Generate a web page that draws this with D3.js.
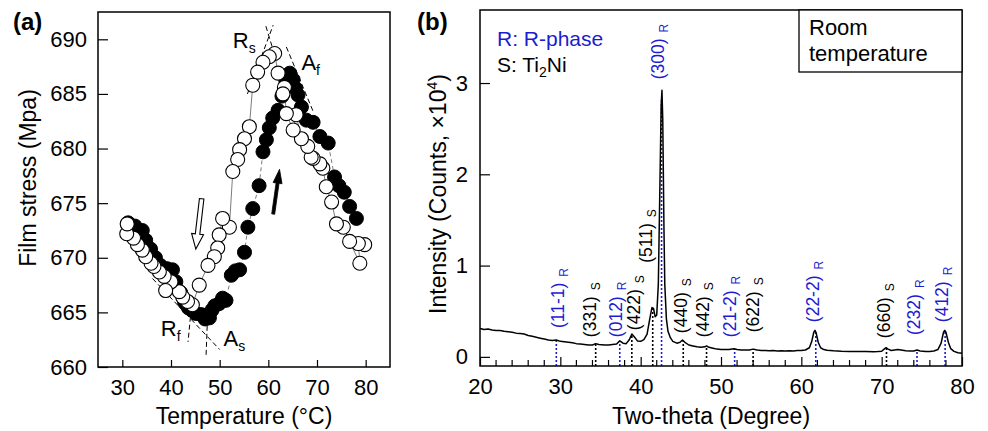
<!DOCTYPE html>
<html>
<head>
<meta charset="utf-8">
<script src="https://cdn.jsdelivr.net/npm/d3@7"></script>
<style>
  body { margin: 0; background: #fff; }
  svg { display: block; }
  text { font-family: Arial, "Liberation Sans", sans-serif; }
</style>
</head>
<body>
<svg id="chart" width="988" height="431"></svg>
<script>
// ---- panel (a): film stress vs temperature ----
const tempTicks = [30, 40, 50, 60, 70, 80]
const stressTicks = [660, 665, 670, 675, 680, 685, 690]

// open circles (cooling), in measuring order
const coolTemp = [79.8, 78.5, 78.8, 76.7, 75.4, 74.0, 73.0, 71.9, 71.2, 70.6, 69.2, 68.8, 68.1, 66.8, 65.7, 65.1,
  63.7, 63.3, 63.0, 62.0, 61.3, 60.2, 58.9, 57.8, 56.8, 56.1, 55.1, 54.1, 53.7, 52.7, 52.0, 50.6, 49.9, 49.6,
  48.9, 47.6, 45.8, 44.4, 43.4, 42.4, 41.7, 40.0, 38.9, 38.6, 37.6, 36.5, 35.9, 34.8, 34.1, 33.1, 32.3, 30.9, 31.0]
const coolStress = [671.2, 671.3, 669.5, 671.5, 672.8, 673.1, 675.1, 676.5, 678.2, 678.6, 679.1, 679.2, 680.2, 680.9, 683.1, 681.7,
  683.2, 685.6, 685.0, 686.9, 688.7, 688.4, 687.9, 687.0, 685.8, 682.0, 680.9, 679.9, 679.0, 677.9, 672.8, 673.6, 672.1, 670.9,
  670.1, 669.3, 667.5, 665.7, 666.0, 666.4, 666.9, 667.8, 667.0, 668.3, 668.7, 669.2, 669.5, 670.1, 670.7, 671.2, 671.8, 672.2, 673.1]

// filled circles (heating)
const heatTemp = [31.2, 32.6, 34.1, 34.8, 35.8, 36.8, 37.8, 39.2, 40.3, 41.0, 42.0, 42.8, 43.6, 44.4, 45.1, 46.2, 47.0,
  47.9, 48.4, 49.0, 49.9, 50.6, 51.3, 52.4, 53.2, 54.1, 55.1, 55.8, 56.8, 58.1, 58.9, 59.6, 60.2, 60.9, 62.0, 62.8,
  63.6, 64.4, 65.1, 65.6, 66.1, 66.8, 67.8, 69.2, 70.6, 72.3, 73.6, 74.5, 75.6, 76.7, 78.1]
const heatStress = [673.2, 672.9, 672.5, 671.6, 670.8, 670.0, 669.3, 669.0, 668.9, 667.8, 666.8, 665.9, 665.4, 665.2, 664.9, 664.8, 664.4,
  664.5, 665.2, 665.6, 665.8, 666.3, 666.1, 668.4, 668.8, 668.9, 670.5, 672.8, 674.5, 676.6, 679.7, 680.8, 681.9, 682.8, 683.5, 684.8,
  686.2, 686.9, 686.3, 685.5, 684.9, 683.8, 682.6, 682.4, 681.1, 680.5, 677.4, 676.6, 676.0, 674.7, 673.6]

// tangent construction lines [T1, S1, T2, S2]
const tangents = [
  [55.7, 685.0, 61.0, 691.3],
  [59.5, 691.2, 61.0, 689.0],
  [63.7, 689.3, 69.3, 683.3],
  [36.2, 668.1, 50.0, 661.6],
  [44.0, 664.6, 43.5, 662.3],
  [47.5, 664.5, 47.2, 661.0]
]
const transLabels = [
  { main: 'R', sub: 's', t: 52.7, s: 689.2 },
  { main: 'A', sub: 'f', t: 66.8, s: 687.2 },
  { main: 'R', sub: 'f', t: 37.9, s: 662.8 },
  { main: 'A', sub: 's', t: 50.8, s: 661.9 }
]

// ---- panel (b): XRD pattern ----
const thetaTicks = [20, 30, 40, 50, 60, 70, 80]
const intensityTicks = [0, 1, 2, 3]

const twoTheta = [20.0, 20.5, 21.0, 21.5, 22.0, 22.5, 23.0, 23.5, 24.0, 24.5, 25.0, 25.5, 26.0, 26.5, 27.0, 27.5,
  28.0, 28.5, 29.0, 29.5, 30.0, 30.5, 31.0, 31.5, 32.0, 32.5, 33.0, 33.5, 34.0, 34.4, 34.8, 35.5, 36.0, 36.5,
  37.0, 37.4, 37.8, 38.2, 38.6, 38.9, 39.2, 39.6, 40.0, 40.4, 40.8, 41.1, 41.4, 41.6, 41.8, 42.0, 42.2, 42.4,
  42.55, 42.65, 42.75, 42.9, 43.0, 43.2, 43.4, 43.7, 44.0, 44.5, 44.9, 45.2, 45.5, 46.0, 46.5, 47.0, 47.5, 48.0,
  48.2, 48.5, 49.0, 49.5, 50.0, 50.5, 51.0, 51.6, 52.0, 52.5, 53.0, 53.5, 54.0, 54.5, 55.0, 55.5, 56.0, 56.5,
  57.0, 57.5, 58.0, 58.5, 59.0, 59.5, 60.0, 60.5, 61.0, 61.3, 61.55, 61.7, 61.85, 62.1, 62.4, 62.8, 63.2, 64.0,
  65.0, 66.0, 67.0, 68.0, 69.0, 69.5, 70.0, 70.3, 70.55, 70.8, 71.2, 71.6, 72.0, 72.4, 73.0, 73.5, 74.0, 74.4,
  74.8, 75.5, 76.0, 76.5, 77.0, 77.4, 77.7, 77.85, 78.0, 78.3, 78.6, 79.0, 79.5, 80.0]
const intensity = [0.31, 0.30, 0.305, 0.295, 0.29, 0.29, 0.28, 0.275, 0.27, 0.26, 0.255, 0.25, 0.235, 0.225, 0.215, 0.205,
  0.195, 0.185, 0.18, 0.185, 0.17, 0.165, 0.16, 0.155, 0.145, 0.14, 0.135, 0.13, 0.13, 0.145, 0.135, 0.13, 0.13, 0.135,
  0.14, 0.175, 0.15, 0.145, 0.19, 0.25, 0.22, 0.175, 0.17, 0.19, 0.25, 0.40, 0.54, 0.53, 0.44, 0.46, 0.80, 1.90,
  2.75, 2.92, 2.60, 1.40, 0.80, 0.42, 0.28, 0.21, 0.17, 0.15, 0.16, 0.185, 0.16, 0.13, 0.12, 0.11, 0.105, 0.11,
  0.12, 0.105, 0.095, 0.085, 0.08, 0.08, 0.08, 0.09, 0.08, 0.075, 0.075, 0.075, 0.085, 0.075, 0.07, 0.07, 0.068, 0.07,
  0.065, 0.066, 0.065, 0.068, 0.065, 0.07, 0.07, 0.075, 0.10, 0.17, 0.27, 0.29, 0.26, 0.16, 0.10, 0.08, 0.072, 0.066,
  0.062, 0.060, 0.058, 0.058, 0.055, 0.058, 0.062, 0.085, 0.10, 0.085, 0.07, 0.075, 0.08, 0.075, 0.066, 0.063, 0.065, 0.075,
  0.065, 0.06, 0.06, 0.065, 0.08, 0.15, 0.27, 0.29, 0.27, 0.16, 0.09, 0.06, 0.045, 0.04]

const peakNames = ['(11-1)', '(331)', '(012)', '(422)', '(511)', '(300)', '(440)', '(442)', '(21-2)', '(622)', '(22-2)', '(660)', '(232)', '(412)']
const peakPhase = ['R', 'S', 'R', 'S', 'S', 'R', 'S', 'S', 'R', 'S', 'R', 'S', 'R', 'R']
const peakPos = [29.5, 34.4, 37.4, 38.9, 41.5, 42.6, 45.3, 48.2, 51.7, 54.0, 61.8, 70.6, 74.4, 77.9]
const labelBase = [0.315, 0.216, 0.216, 0.293, 1.03, 3.04, 0.26, 0.216, 0.216, 0.27, 0.38, 0.205, 0.24, 0.38]
const labelShift = [8, 0, 2, 8, -1, 2, 4, 2, 1, 6, 3, 4, 3, 3]

const blue = '#1c1cd0'
const svg = d3.select('#chart')

// ================= panel (a) =================
const xa = d3.scaleLinear().domain([25, 85]).range([98, 390])
const ya = d3.scaleLinear().domain([660, 692.5]).range([367, 12])

function styleAxis(g, size) {
  g.select('.domain').remove()
  g.attr('font-size', size).attr('font-family', 'Arial, "Liberation Sans", sans-serif')
  g.selectAll('.tick line').attr('stroke-width', 1.2)
  g.selectAll('.tick text').attr('fill', '#000')
}

svg.append('g')
  .attr('transform', 'translate(0,367)')
  .call(d3.axisBottom(xa).tickValues(tempTicks).tickSizeInner(-7).tickSizeOuter(0).tickPadding(12))
  .call(g => styleAxis(g, 22))

svg.append('g')
  .attr('transform', 'translate(98,0)')
  .call(d3.axisLeft(ya).tickValues(stressTicks).tickSizeInner(-10).tickSizeOuter(0).tickPadding(11))
  .call(g => styleAxis(g, 22))

// connecting lines
const coolIdx = d3.range(coolTemp.length)
const heatIdx = d3.range(heatTemp.length)
svg.append('path')
  .attr('d', d3.line().x(i => xa(coolTemp[i])).y(i => ya(coolStress[i]))(coolIdx))
  .attr('fill', 'none').attr('stroke', '#444').attr('stroke-width', 0.7)
svg.append('path')
  .attr('d', d3.line().x(i => xa(heatTemp[i])).y(i => ya(heatStress[i]))(heatIdx))
  .attr('fill', 'none').attr('stroke', '#444').attr('stroke-width', 0.7).attr('stroke-dasharray', '4,3')

// tangents
svg.append('g').selectAll('line').data(tangents).join('line')
  .attr('x1', d => xa(d[0])).attr('y1', d => ya(d[1]))
  .attr('x2', d => xa(d[2])).attr('y2', d => ya(d[3]))
  .attr('stroke', '#000').attr('stroke-width', 1).attr('stroke-dasharray', '5,3')

// markers: heating (filled) then cooling (open)
svg.append('g').selectAll('circle').data(heatIdx).join('circle')
  .attr('cx', i => xa(heatTemp[i])).attr('cy', i => ya(heatStress[i])).attr('r', 7)
  .attr('fill', '#000').attr('stroke', '#000')
svg.append('g').selectAll('circle').data(coolIdx).join('circle')
  .attr('cx', i => xa(coolTemp[i])).attr('cy', i => ya(coolStress[i])).attr('r', 7)
  .attr('fill', '#fff').attr('stroke', '#000').attr('stroke-width', 1.1)

// arrows
function arrowPath(t1, s1, t2, s2, shaftW, headW, headL) {
  const x1 = xa(t1), y1 = ya(s1), x2 = xa(t2), y2 = ya(s2)
  const len = Math.hypot(x2 - x1, y2 - y1)
  const ux = (x2 - x1) / len, uy = (y2 - y1) / len
  const px = -uy, py = ux
  const bx = x2 - ux * headL, by = y2 - uy * headL
  const p = [
    [x1 + px * shaftW / 2, y1 + py * shaftW / 2],
    [bx + px * shaftW / 2, by + py * shaftW / 2],
    [bx + px * headW / 2, by + py * headW / 2],
    [x2, y2],
    [bx - px * headW / 2, by - py * headW / 2],
    [bx - px * shaftW / 2, by - py * shaftW / 2],
    [x1 - px * shaftW / 2, y1 - py * shaftW / 2]
  ]
  return 'M' + p.map(q => q.join(',')).join('L') + 'Z'
}
svg.append('path')
  .attr('d', arrowPath(46.3, 675.4, 45.1, 670.8, 4.5, 12, 15))
  .attr('fill', '#fff').attr('stroke', '#000').attr('stroke-width', 1.1)
svg.append('path')
  .attr('d', arrowPath(61.0, 674.0, 62.3, 678.1, 3, 9, 14))
  .attr('fill', '#000').attr('stroke', '#000').attr('stroke-width', 0.8)

// transition labels
svg.append('g').selectAll('text').data(transLabels).join('text')
  .attr('x', d => xa(d.t)).attr('y', d => ya(d.s))
  .attr('font-size', 22)
  .each(function (d) {
    const t = d3.select(this)
    t.append('tspan').text(d.main)
    t.append('tspan').text(d.sub).attr('font-size', 14).attr('dy', 5)
  })

svg.append('rect')
  .attr('x', 98).attr('y', 12).attr('width', 292).attr('height', 355)
  .attr('fill', 'none').attr('stroke', '#000').attr('stroke-width', 1.5)

svg.append('text').attr('x', 13).attr('y', 30).attr('font-size', 24).attr('font-weight', 'bold').text('(a)')
svg.append('text')
  .attr('transform', 'translate(36,178) rotate(-90)')
  .attr('text-anchor', 'middle').attr('font-size', 23).text('Film stress (Mpa)')
svg.append('text')
  .attr('x', 244).attr('y', 424).attr('text-anchor', 'middle').attr('font-size', 23).text('Temperature (°C)')

// ================= panel (b) =================
const xb = d3.scaleLinear().domain([20, 80]).range([480, 962])
const yb = d3.scaleLinear().domain([-0.1, 3.8]).range([366, 10])

svg.append('g')
  .attr('transform', 'translate(0,366)')
  .call(d3.axisBottom(xb).tickValues(thetaTicks).tickSizeInner(-9).tickSizeOuter(0).tickPadding(12))
  .call(g => styleAxis(g, 22))
svg.append('g').selectAll('line')
  .data(d3.range(22, 80, 2).filter(v => v % 10 !== 0)).join('line')
  .attr('x1', d => xb(d)).attr('x2', d => xb(d))
  .attr('y1', 366).attr('y2', 360)
  .attr('stroke', '#000').attr('stroke-width', 1.2)

svg.append('g')
  .attr('transform', 'translate(480,0)')
  .call(d3.axisLeft(yb).tickValues(intensityTicks).tickFormat(d3.format('d'))
    .tickSizeInner(-10).tickSizeOuter(0).tickPadding(12))
  .call(g => styleAxis(g, 22))

function curveAt(pos) {
  const i = d3.bisectLeft(twoTheta, pos)
  if (i <= 0) return intensity[0]
  const t = (pos - twoTheta[i - 1]) / (twoTheta[i] - twoTheta[i - 1])
  return intensity[i - 1] + t * (intensity[i] - intensity[i - 1])
}

// reference lines
const peakIdx = d3.range(peakPos.length)
svg.append('g').selectAll('line').data(peakIdx).join('line')
  .attr('x1', i => xb(peakPos[i])).attr('x2', i => xb(peakPos[i]))
  .attr('y1', 366).attr('y2', i => yb(curveAt(peakPos[i])))
  .attr('stroke', i => peakPhase[i] === 'R' ? blue : '#000')
  .attr('stroke-width', 1.6).attr('stroke-dasharray', '2,2')

svg.append('path')
  .attr('d', d3.line().x(i => xb(twoTheta[i])).y(i => yb(intensity[i]))(d3.range(twoTheta.length)))
  .attr('fill', 'none').attr('stroke', '#000').attr('stroke-width', 1.5).attr('stroke-linejoin', 'round')

// peak labels
svg.append('g').selectAll('text').data(peakIdx).join('text')
  .attr('transform', i => `translate(${xb(peakPos[i]) + labelShift[i]},${yb(labelBase[i])}) rotate(-90)`)
  .attr('font-size', 17.5)
  .attr('fill', i => peakPhase[i] === 'R' ? blue : '#000')
  .each(function (i) {
    const t = d3.select(this)
    t.append('tspan').text(peakNames[i])
    t.append('tspan').text(peakPhase[i]).attr('font-size', 12).attr('dx', 6).attr('dy', 4)
  })

svg.append('rect')
  .attr('x', 480).attr('y', 10).attr('width', 482).attr('height', 356)
  .attr('fill', 'none').attr('stroke', '#000').attr('stroke-width', 1.5)

// legend and note box
svg.append('text').attr('x', 497).attr('y', 46).attr('font-size', 21).attr('fill', blue).text('R: R-phase')
const sLeg = svg.append('text').attr('x', 497).attr('y', 72).attr('font-size', 21)
sLeg.append('tspan').text('S: Ti')
sLeg.append('tspan').text('2').attr('font-size', 14).attr('dy', 5)
sLeg.append('tspan').text('Ni').attr('dy', -5)

svg.append('rect')
  .attr('x', 799).attr('y', 10).attr('width', 163).attr('height', 62)
  .attr('fill', '#fff').attr('stroke', '#000').attr('stroke-width', 1.3)
svg.append('text').attr('x', 809).attr('y', 35).attr('font-size', 22).text('Room')
svg.append('text').attr('x', 809).attr('y', 61).attr('font-size', 22).text('temperature')

svg.append('text').attr('x', 417).attr('y', 30).attr('font-size', 24).attr('font-weight', 'bold').text('(b)')
const yTitle = svg.append('text')
  .attr('transform', 'translate(446,194) rotate(-90)')
  .attr('text-anchor', 'middle').attr('font-size', 23)
yTitle.append('tspan').text('Intensity (Counts, ×10')
yTitle.append('tspan').text('4').attr('font-size', 14).attr('dy', -9)
yTitle.append('tspan').text(')').attr('dy', 9)
svg.append('text')
  .attr('x', 711).attr('y', 424).attr('text-anchor', 'middle').attr('font-size', 23).text('Two-theta (Degree)')
</script>
</body>
</html>
